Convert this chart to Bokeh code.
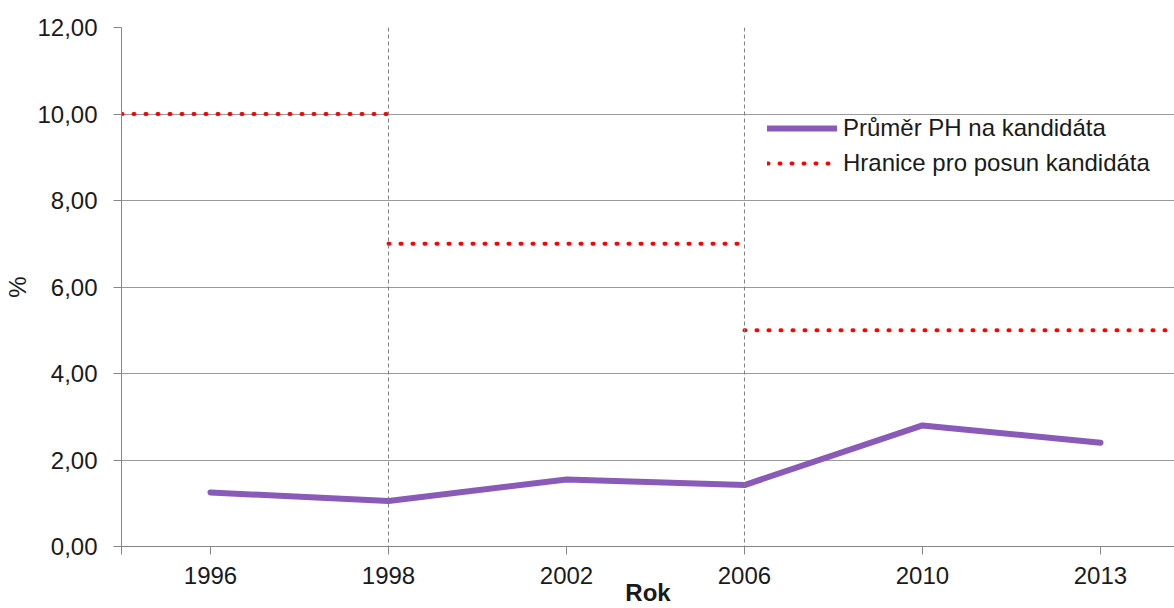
from bokeh.plotting import figure
from bokeh.models import (FixedTicker, CustomJSTickFormatter, Span, ColumnDataSource,
                          Range1d)
from bokeh.embed import file_html
from bokeh.resources import INLINE

# ---- data ----
years = ["1996", "1998", "2002", "2006", "2010", "2013"]
avg_ph = [1.25, 1.05, 1.55, 1.42, 2.80, 2.40]
threshold_values = [10.0, 7.0, 5.0]
threshold_start = ["1996", "1998", "2006"]
threshold_end = ["1998", "2006", "2013"]
period_breaks = ["1998", "2006"]
y_ticks = [0, 2, 4, 6, 8, 10, 12]

FONT = "Liberation Sans"
TXT = "#1a1a1a"
GRID = "#9a9a9a"
AXIS = "#868686"

idx = {y: i for i, y in enumerate(years)}
xs = [idx[y] for y in years]
n = len(years)

# threshold segments: first one starts at left edge of first category,
# last one runs to the right edge of the last category
x0 = [idx[s] - 0.5 if idx[s] == 0 else idx[s] for s in threshold_start]
x1 = [idx[e] + 0.5 if idx[e] == n - 1 else idx[e] for e in threshold_end]
thr = ColumnDataSource(dict(x0=x0, x1=x1, y=threshold_values))
line_src = ColumnDataSource(dict(x=xs, y=avg_ph))

p = figure(width=1174, height=608, output_backend="svg", toolbar_location=None,
           x_range=Range1d(-0.5, n - 0.584), y_range=Range1d(0, 12),
           min_border_left=121, min_border_right=0, min_border_top=27,
           min_border_bottom=62)
p.outline_line_color = None
p.background_fill_color = "white"

# grid
p.xgrid.grid_line_color = None
p.ygrid.grid_line_color = GRID
p.ygrid.grid_line_width = 1
p.ygrid.ticker = FixedTicker(ticks=y_ticks)

# vertical dashed separators
for b in period_breaks:
    p.add_layout(Span(location=idx[b], dimension="height", line_color="#7f7f7f",
                      line_width=1, line_dash="4 3"))

# threshold dotted lines
p.segment(x0="x0", y0="y", x1="x1", y1="y", source=thr, line_color="#ff0000",
          line_width=4, line_dash="1 11", line_cap="round",
          legend_label="Hranice pro posun kandidáta")

# average line
r = p.line("x", "y", source=line_src, line_color="#8a5ab8", line_width=6,
           line_cap="round", line_join="round",
           legend_label="Průměr PH na kandidáta")

# put purple item first in legend
items = p.legend.items
p.legend.items = [items[1], items[0]]

# axes
xa = p.xaxis[0]
xa.ticker = FixedTicker(ticks=[-0.5] + xs)
overrides = {i: y for i, y in enumerate(years)}
overrides[-0.5] = ""
xa.major_label_overrides = overrides
xa.axis_label = "Rok"
xa.axis_label_text_font = FONT
xa.axis_label_text_font_style = "bold"
xa.axis_label_text_font_size = "24px"
xa.axis_label_text_color = TXT
xa.axis_label_standoff = -8
xa.major_label_text_font = FONT
xa.major_label_text_font_size = "24px"
xa.major_label_text_color = TXT
xa.major_label_standoff = 12
xa.major_tick_out = 8
xa.major_tick_in = 0
xa.minor_tick_out = 0
xa.minor_tick_in = 0
xa.axis_line_color = AXIS
xa.major_tick_line_color = AXIS

ya = p.yaxis[0]
ya.ticker = FixedTicker(ticks=y_ticks)
ya.formatter = CustomJSTickFormatter(code="return tick.toFixed(2).replace('.', ',');")
ya.axis_label = "%"
ya.axis_label_text_font = FONT
ya.axis_label_text_font_style = "normal"
ya.axis_label_text_font_size = "24px"
ya.axis_label_text_color = TXT
ya.axis_label_standoff = 3
ya.major_label_text_font = FONT
ya.major_label_text_font_size = "24px"
ya.major_label_text_color = TXT
ya.major_label_standoff = 16
ya.major_tick_out = 8
ya.major_tick_in = 0
ya.minor_tick_out = 0
ya.minor_tick_in = 0
ya.axis_line_color = AXIS
ya.major_tick_line_color = AXIS

# legend
lg = p.legend[0]
lg.location = (646, 368)
lg.padding = 0
lg.margin = 0
lg.spacing = 5
lg.glyph_width = 70
lg.glyph_height = 30
lg.label_height = 30
lg.label_standoff = 6
lg.label_text_font = FONT
lg.label_text_font_size = "24px"
lg.label_text_color = TXT
lg.border_line_color = None
lg.background_fill_alpha = 0

open("out.html", "w").write(file_html(p, INLINE))
